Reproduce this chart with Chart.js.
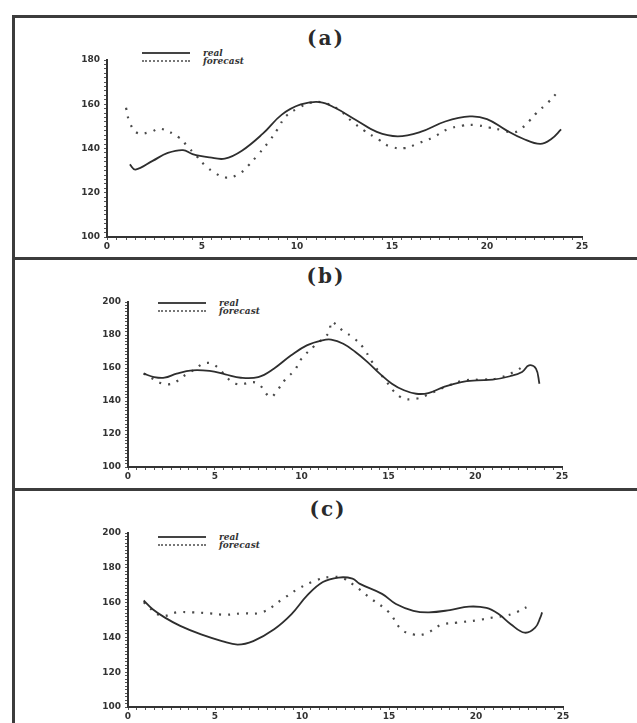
<!DOCTYPE html>
<html>
<head>
<meta charset="utf-8">
<script src="https://cdn.jsdelivr.net/npm/chart.js@4"></script>
<style>
    body { margin: 0; width: 637px; height: 723px; overflow: hidden; position: relative; background: #fff; }
    .ramka { position: absolute; left: 12px; width: 640px; border-left: 3px solid #3c3c3c; border-top: 3px solid #3c3c3c; box-sizing: border-box; }
    .plotno { position: absolute; left: 0; width: 637px; }
    .tytul { position: absolute; transform: translateX(-50%); font: bold 20px 'DejaVu Serif', serif; color: #2a2a2a; letter-spacing: 2px; }
    .legenda { position: absolute; font: italic bold 9px 'DejaVu Serif', serif; color: #333; line-height: 8px; }
    .legenda div { display: flex; align-items: center; height: 8px; }
    .legenda span.kreska { display: inline-block; width: 48px; margin-right: 13px; }
</style>
</head>
<body>

<div class="ramka" style="top:15px;height:245px"></div>
<div class="ramka" style="top:257px;height:235px"></div>
<div class="ramka" style="top:488px;height:240px"></div>

<div class="tytul" style="left:326px;top:26px">(a)</div>
<div class="tytul" style="left:326px;top:264px">(b)</div>
<div class="tytul" style="left:328px;top:497px">(c)</div>

<div class="legenda" style="left:142px;top:49px">
    <div><span class="kreska" style="border-top:2px solid #444"></span>real</div>
    <div><span class="kreska" style="border-top:2px dotted #777"></span>forecast</div>
</div>
<div class="legenda" style="left:158px;top:299px">
    <div><span class="kreska" style="border-top:2px solid #444"></span>real</div>
    <div><span class="kreska" style="border-top:2px dotted #777"></span>forecast</div>
</div>
<div class="legenda" style="left:158px;top:533px">
    <div><span class="kreska" style="border-top:2px solid #444"></span>real</div>
    <div><span class="kreska" style="border-top:2px dotted #777"></span>forecast</div>
</div>

<canvas id="wykres-a" class="plotno" style="top:16px" width="637" height="242"></canvas>
<canvas id="wykres-b" class="plotno" style="top:258px" width="637" height="231"></canvas>
<canvas id="wykres-c" class="plotno" style="top:489px" width="637" height="234"></canvas>

<script>
const X_ETYKIETY = [0, 5, 10, 15, 20, 25];
const Y_ETYKIETY_A = [100, 120, 140, 160, 180];
const Y_ETYKIETY_BC = [100, 120, 140, 160, 180, 200];

// (a)
const aRealT = [1.2, 1.5, 2.4, 3.2, 4.0, 4.5, 5.4, 6.2, 7.1, 8.2, 9.2, 10.2, 11.2, 12.0, 13.1, 14.2, 15.3, 16.5, 17.8, 19.1, 20.0, 21.0, 21.9, 22.8, 23.4, 23.9];
const aRealV = [132.8, 130.5, 134.4, 138.0, 139.3, 137.5, 136.0, 135.4, 139.0, 146.7, 155.3, 159.9, 161.0, 158.4, 152.9, 147.5, 145.5, 147.5, 152.2, 154.5, 153.3, 148.3, 144.4, 142.1, 144.4, 148.6];
const aFcstT = [1.0, 1.2, 1.6, 2.3, 2.8, 3.8, 4.2, 4.7, 5.2, 5.7, 6.2, 6.9, 7.4, 7.9, 8.5, 9.0, 9.4, 10.1, 10.7, 11.4, 12.2, 12.9, 13.5, 14.3, 14.9, 15.7, 16.3, 17.2, 17.9, 18.7, 19.4, 20.1, 20.8, 21.4, 21.8, 22.2, 22.6, 23.2, 23.7];
const aFcstV = [158.4, 151.7, 147.0, 147.5, 149.0, 144.9, 141.3, 136.7, 132.0, 128.9, 126.9, 128.2, 132.0, 136.7, 142.9, 149.0, 154.5, 158.4, 160.7, 160.7, 157.6, 152.2, 148.3, 144.0, 140.9, 140.2, 142.1, 145.2, 148.6, 150.3, 150.6, 149.5, 148.3, 147.2, 149.0, 152.2, 156.0, 160.7, 165.3];

// (b)
const bRealT = [0.9, 1.5, 2.1, 2.8, 3.7, 4.7, 5.6, 6.5, 7.5, 8.4, 9.4, 10.3, 11.2, 11.7, 12.4, 13.1, 13.8, 14.5, 15.2, 15.9, 16.6, 17.3, 18.2, 19.2, 20.1, 21.0, 22.0, 22.7, 23.1, 23.5, 23.7];
const bRealV = [156.6, 154.5, 154.1, 156.6, 158.6, 158.2, 156.2, 154.1, 154.5, 159.6, 167.7, 173.7, 176.8, 177.2, 174.7, 169.7, 163.6, 156.6, 150.5, 146.5, 144.4, 144.8, 148.5, 151.5, 152.5, 152.9, 155.0, 157.6, 161.6, 159.6, 150.5];
const bFcstT = [0.9, 2.3, 3.5, 4.7, 6.2, 7.4, 8.2, 8.6, 9.1, 9.6, 10.0, 10.8, 11.6, 11.7, 12.4, 13.0, 13.6, 14.0, 14.8, 15.7, 16.6, 17.5, 18.5, 19.4, 20.5, 21.4, 22.4, 22.9];
const bFcstV = [156.6, 150.1, 157.0, 163.0, 150.5, 151.0, 142.4, 146.5, 153.5, 158.6, 165.7, 174.0, 181.8, 187.9, 182.4, 178.2, 171.7, 164.6, 153.0, 142.4, 141.4, 145.0, 149.5, 152.5, 153.0, 154.0, 158.6, 162.2];

// (c)
const cRealT = [0.9, 1.4, 2.1, 3.0, 4.2, 5.4, 6.3, 7.2, 8.4, 9.4, 10.3, 11.2, 12.1, 12.9, 13.3, 14.6, 15.4, 16.4, 17.3, 18.5, 19.6, 20.6, 21.3, 22.0, 22.8, 23.4, 23.7, 23.8];
const cRealV = [161.2, 156.3, 151.5, 146.6, 141.7, 137.9, 135.9, 137.9, 144.7, 153.4, 164.1, 171.8, 174.4, 173.8, 170.9, 165.0, 159.2, 155.3, 154.4, 155.7, 157.7, 156.9, 153.4, 147.6, 142.7, 145.6, 151.5, 154.4];
const cFcstT = [0.9, 1.9, 2.8, 3.7, 4.7, 5.6, 6.5, 7.7, 8.9, 9.8, 10.8, 11.7, 12.4, 13.0, 14.0, 15.0, 15.7, 16.4, 17.1, 18.0, 18.9, 20.1, 21.0, 21.7, 22.3, 22.9];
const cFcstV = [160.2, 152.4, 154.4, 154.4, 153.8, 153.0, 153.8, 154.4, 162.1, 168.0, 172.8, 174.8, 173.8, 169.9, 162.0, 154.4, 144.7, 141.7, 142.1, 147.2, 148.5, 149.9, 151.5, 152.4, 154.4, 157.3];

const KOLOR_REAL = '#2e2e2e';
const KOLOR_FCST = '#4a4a4a';
const CZCIONKA = { family: 'DejaVu Sans', size: 9, weight: 'bold' };

function punkty(t, v) {
    return t.map((x, i) => ({ x: x, y: v[i] }));
}

function zbuduj(id, real, fcst, yMin, yMax, yEtykiety, uklad) {
    const ctx = document.getElementById(id).getContext('2d');
    return new Chart(ctx, {
        type: 'scatter',
        data: {
            datasets: [
                {
                    label: 'real',
                    data: real,
                    showLine: true,
                    borderColor: KOLOR_REAL,
                    borderWidth: 1.8,
                    pointRadius: 0,
                    tension: 0.4
                },
                {
                    label: 'forecast',
                    data: fcst,
                    showLine: true,
                    borderColor: KOLOR_FCST,
                    borderWidth: 2.2,
                    borderDash: [2, 7],
                    pointRadius: 0,
                    tension: 0.4
                }
            ]
        },
        options: {
            responsive: false,
            animation: false,
            layout: { padding: { left: 0, top: uklad.gora, right: uklad.prawo, bottom: 0 } },
            plugins: { legend: { display: false }, tooltip: { enabled: false } },
            scales: {
                x: {
                    type: 'linear',
                    min: 0, max: 25,
                    afterFit: s => { s.height = uklad.dol; },
                    afterBuildTicks: s => {
                        const t = [];
                        for (let i = 0; i <= 50; i++) t.push({ value: i / 2 });
                        s.ticks = t;
                    },
                    border: { color: '#333', width: 2 },
                    grid: { drawOnChartArea: false, color: '#555', tickLength: 3 },
                    ticks: {
                        autoSkip: false,
                        maxRotation: 0,
                        padding: 1,
                        color: '#333',
                        font: CZCIONKA,
                        callback: v => X_ETYKIETY.includes(v) ? String(v) : ''
                    }
                },
                y: {
                    min: yMin, max: yMax,
                    afterFit: s => { s.width = uklad.lewo; },
                    afterBuildTicks: s => {
                        const t = [];
                        for (let v = yMin; v <= yMax; v += 2) t.push({ value: v });
                        s.ticks = t;
                    },
                    border: { color: '#333', width: 2 },
                    grid: { drawOnChartArea: false, color: '#555', tickLength: 3 },
                    ticks: {
                        autoSkip: false,
                        padding: 4,
                        color: '#333',
                        font: CZCIONKA,
                        callback: v => yEtykiety.includes(v) ? String(v) : ''
                    }
                }
            }
        }
    });
}

zbuduj('wykres-a', punkty(aRealT, aRealV), punkty(aFcstT, aFcstV), 100, 180, Y_ETYKIETY_A,
    { lewo: 107, gora: 44, prawo: 55, dol: 21 });
zbuduj('wykres-b', punkty(bRealT, bRealV), punkty(bFcstT, bFcstV), 100, 200, Y_ETYKIETY_BC,
    { lewo: 128, gora: 44, prawo: 75, dol: 22 });
zbuduj('wykres-c', punkty(cRealT, cRealV), punkty(cFcstT, cFcstV), 100, 200, Y_ETYKIETY_BC,
    { lewo: 128, gora: 44, prawo: 74, dol: 16 });
</script>
</body>
</html>
